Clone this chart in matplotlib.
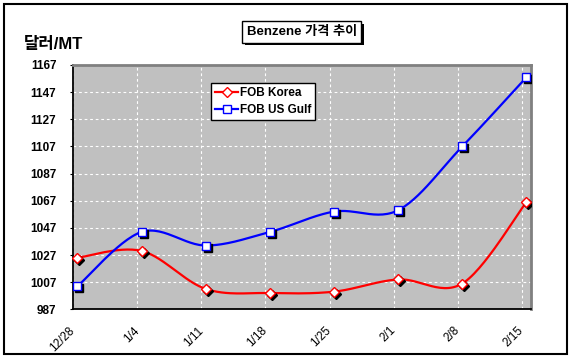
import numpy as np
import matplotlib
matplotlib.use("Agg")
import matplotlib.pyplot as plt
import matplotlib.transforms as mtransforms
import matplotlib.patheffects as pe
from matplotlib.patches import Rectangle

plt.rcParams['font.family'] = ['Liberation Sans', 'Noto Sans CJK KR', 'DejaVu Sans']

dates = ['12/28', '1/4', '1/11', '1/18', '1/25', '2/1', '2/8', '2/15']
fob_korea = [1025, 1030, 1002, 999, 1000, 1009, 1006, 1066]
fob_usgulf = [1004, 1044, 1034, 1044, 1059, 1060, 1107, 1158]
yticks = [987, 1007, 1027, 1047, 1067, 1087, 1107, 1127, 1147, 1167]


def smooth(x, y, n=30):
    # Catmull-Rom style smoothing like Excel's "smoothed line"
    x = np.asarray(x, float)
    y = np.asarray(y, float)
    px = np.concatenate([[x[0]], x, [x[-1]]])
    py = np.concatenate([[y[0]], y, [y[-1]]])
    xs, ys = [], []
    t = np.linspace(0, 1, n)
    for i in range(1, len(px) - 2):
        p0 = np.array([px[i], py[i]])
        p3 = np.array([px[i + 1], py[i + 1]])
        c1 = p0 + (np.array([px[i + 1], py[i + 1]]) - np.array([px[i - 1], py[i - 1]])) / 6
        c2 = p3 - (np.array([px[i + 2], py[i + 2]]) - np.array([px[i], py[i]])) / 6
        b = ((1 - t) ** 3)[:, None] * p0 + (3 * (1 - t) ** 2 * t)[:, None] * c1 \
            + (3 * (1 - t) * t ** 2)[:, None] * c2 + (t ** 3)[:, None] * p3
        xs.extend(b[:, 0])
        ys.extend(b[:, 1])
    return np.array(xs), np.array(ys)


fig = plt.figure(figsize=(5.73, 3.62), dpi=100)
ax = fig.add_axes([73 / 573, 1 - 309.3 / 362, (531 - 73) / 573, (309.3 - 65) / 362])
ax.set_facecolor('#C0C0C0')

xi = np.arange(len(dates))
xd = xi + 0.07

shadow = mtransforms.offset_copy(ax.transData, fig=fig, x=2, y=-2, units='dots')

sx, sy = smooth(xd, fob_korea)
ax.plot(sx, sy, color='#FF0000', lw=1.6, zorder=3)
sx, sy = smooth(xd, fob_usgulf)
ax.plot(sx, sy, color='#0000FF', lw=1.6, zorder=3)

ax.plot(xd, fob_korea, 'D', ms=5.2, color='k', transform=shadow, zorder=4)
ax.plot(xd, fob_usgulf, 's', ms=5.5, color='k', transform=shadow, zorder=4)
ax.plot(xd, fob_korea, 'D', ms=5.2, mfc='white', mec='#FF0000', mew=1, zorder=5, clip_on=False)
ax.plot(xd, fob_usgulf, 's', ms=5.5, mfc='white', mec='#0000FF', mew=1, zorder=5, clip_on=False)

# legend proxies
h1, = ax.plot([], [], color='#FF0000', lw=1.6, marker='D', ms=5.2, mfc='white', mec='#FF0000')
h2, = ax.plot([], [], color='#0000FF', lw=1.6, marker='s', ms=5.5, mfc='white', mec='#0000FF')
leg = fig.legend([h1, h2], ['FOB Korea', 'FOB US Gulf'], loc='upper left',
                 bbox_to_anchor=(210.7 / 573, 1 - 82.7 / 362), borderaxespad=0,
                 prop={'weight': 'bold', 'size': 8.5}, handlelength=2.0, handletextpad=0.1,
                 borderpad=0.35, labelspacing=0.45, fancybox=False, framealpha=1)
leg.get_frame().set_edgecolor('black')
leg.get_frame().set_linewidth(1)

ax.set_xlim(0, (531 - 74) / 64)
ax.set_ylim(987, 1167)
ax.set_yticks(yticks)
ax.set_xticks(xi)
ax.set_xticklabels(dates, rotation=45, ha='right', va='center', rotation_mode='anchor', fontsize=8.5)
ax.tick_params(axis='x', length=0, pad=14)
ax.tick_params(axis='y', length=2, pad=10, labelsize=8.5)
for lab in ax.get_yticklabels():
    lab.set_fontweight('bold')

ax.grid(True, color='white', linestyle=(0, (2.5, 2.5)), lw=0.8)
ax.set_axisbelow(True)
for s in ['left', 'bottom']:
    ax.spines[s].set_color('black')
    ax.spines[s].set_linewidth(1.3)
for s in ['top', 'right']:
    ax.spines[s].set_color('#808080')
    ax.spines[s].set_linewidth(2)

fig.text(24 / 573, 1 - 44 / 362, '달러/MT', fontsize=12, fontweight='bold', va='center', ha='left')

title = fig.text(301.7 / 573, 1 - 32 / 362, 'Benzene 가격 추이', fontsize=9.5, fontweight='bold',
                 ha='center', va='center',
                 bbox=dict(boxstyle='square,pad=0.35', fc='white', ec='black', lw=1))
title.get_bbox_patch().set_path_effects([
    pe.SimplePatchShadow(offset=(2, -2), shadow_rgbFace='black', alpha=1), pe.Normal()])

fig.patches.append(Rectangle((4 / 573, 1 - 354 / 362), 563 / 573, 350 / 362,
                             transform=fig.transFigure, fill=False, ec='black', lw=1.5))

fig.savefig('out.png', dpi=100)
